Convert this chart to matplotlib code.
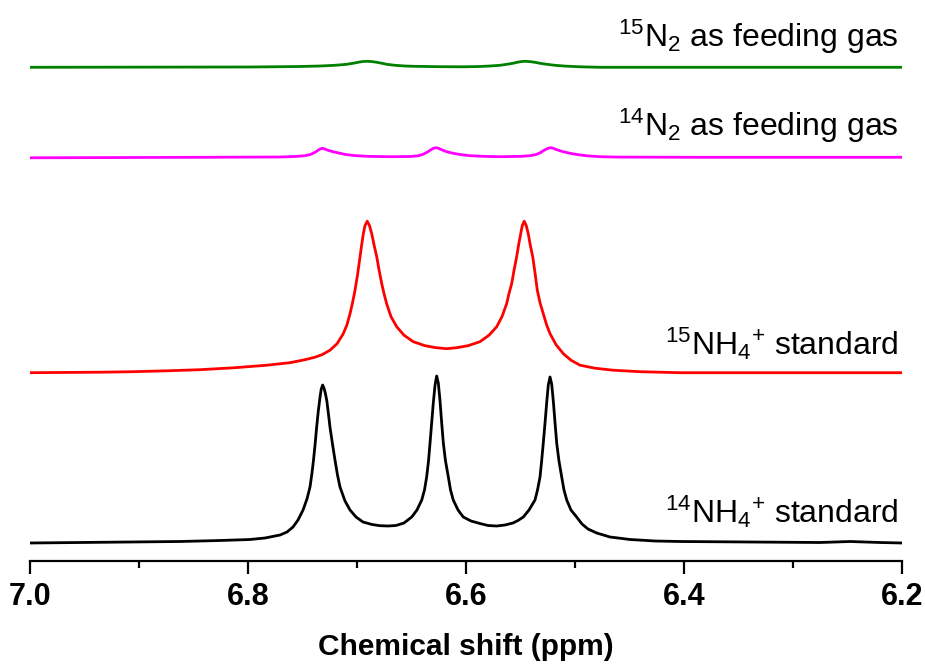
import matplotlib
matplotlib.use('Agg')
import matplotlib.pyplot as plt
from matplotlib.ticker import MultipleLocator, FormatStrFormatter

plt.rcParams['font.family'] = ['Liberation Sans', 'DejaVu Sans']
plt.rcParams['mathtext.fontset'] = 'custom'
plt.rcParams['mathtext.rm'] = 'Liberation Sans'
plt.rcParams['mathtext.it'] = 'Liberation Sans:italic'
plt.rcParams['mathtext.bf'] = 'Liberation Sans:bold'

##### spectra (ppm, intensity above own baseline, a.u.) #####
# 14NH4+ standard (black)
ppm_14nh4 = [7.0000, 6.9541, 6.9083, 6.8624, 6.8257, 6.7982, 6.7844, 6.7798, 6.7706, 6.7642,
             6.7587, 6.7541, 6.7495, 6.7459, 6.7431, 6.7413, 6.7399, 6.7385, 6.7370, 6.7355,
             6.7339, 6.7328, 6.7315, 6.7303, 6.7291, 6.7278, 6.7263, 6.7248, 6.7225, 6.7202,
             6.7179, 6.7156, 6.7110, 6.7064, 6.7009, 6.6945, 6.6862, 6.6789, 6.6716, 6.6642,
             6.6569, 6.6498, 6.6450, 6.6406, 6.6381, 6.6361, 6.6344, 6.6330, 6.6315, 6.6300,
             6.6284, 6.6269, 6.6254, 6.6239, 6.6223, 6.6208, 6.6188, 6.6162, 6.6142, 6.6117,
             6.6073, 6.6025, 6.5954, 6.5872, 6.5798, 6.5718, 6.5642, 6.5569, 6.5523, 6.5474,
             6.5422, 6.5367, 6.5344, 6.5321, 6.5306, 6.5291, 6.5275, 6.5260, 6.5245, 6.5229,
             6.5214, 6.5199, 6.5183, 6.5168, 6.5147, 6.5122, 6.5101, 6.5076, 6.5037, 6.4985,
             6.4936, 6.4881, 6.4801, 6.4679, 6.4495, 6.4266, 6.4037, 6.3394, 6.2752, 6.2477,
             6.2202, 6.2000]
int_14nh4 = [0, 0.5, 1, 1.5, 2.5, 3.5, 5, 6, 8, 11,
             16, 23, 33, 44, 56, 70, 83, 98, 116, 132,
             146, 154, 158, 155, 150, 143, 130, 116, 99, 83,
             68, 56, 42, 33, 26, 21, 18.5, 17.3, 17, 17.5,
             20, 26, 33, 43, 53, 66, 82, 100, 120, 140,
             158, 167, 160, 143, 120, 100, 82, 66, 53, 43,
             33, 26, 22, 19.5, 17.5, 17, 18, 20, 22.5, 26,
             33, 43, 53, 66, 82, 100, 120, 140, 158, 166,
             159, 142, 120, 100, 82, 66, 53, 43, 33, 26,
             19, 14, 10, 6, 3.5, 2, 1.5, 1, 0.5, 1.5,
             0.5, 0]

# 15NH4+ standard (red)
ppm_15nh4 = [7.0000, 6.9358, 6.9055, 6.8716, 6.8440, 6.8119, 6.7826, 6.7615, 6.7477, 6.7385,
             6.7321, 6.7248, 6.7183, 6.7126, 6.7092, 6.7064, 6.7041, 6.7018, 6.6995, 6.6972,
             6.6957, 6.6942, 6.6927, 6.6906, 6.6885, 6.6865, 6.6844, 6.6819, 6.6798, 6.6773,
             6.6752, 6.6728, 6.6688, 6.6636, 6.6569, 6.6484, 6.6376, 6.6275, 6.6177, 6.6083,
             6.5982, 6.5872, 6.5789, 6.5718, 6.5670, 6.5627, 6.5606, 6.5581, 6.5560, 6.5535,
             6.5517, 6.5498, 6.5484, 6.5466, 6.5447, 6.5429, 6.5411, 6.5388, 6.5367, 6.5346,
             6.5321, 6.5291, 6.5261, 6.5229, 6.5174, 6.5107, 6.5037, 6.4954, 6.4817, 6.4651,
             6.4404, 6.4037, 6.2000]
int_15nh4 = [0, 0.5, 1, 2, 3, 5, 7.5, 10, 13, 15.5,
             18, 22.5, 29, 39, 48, 59, 70, 82.5, 98, 116,
             128, 139, 147, 151.5, 147, 139, 128, 116, 103, 89,
             79, 69, 56, 46, 37.5, 31, 27, 25, 24, 25,
             27, 31, 37.5, 46, 56, 69, 79, 89, 102, 116,
             128, 139, 147, 151.5, 147, 139, 128, 116, 100, 82.5,
             70, 59, 48, 39, 28, 19, 12.5, 7.5, 4.5, 2.5,
             1, 0, 0]

# 14N2 as feeding gas (magenta)
ppm_14n2 = [7.0000, 6.8440, 6.7706, 6.7569, 6.7477, 6.7422, 6.7385, 6.7358, 6.7335, 6.7315,
            6.7294, 6.7266, 6.7220, 6.7156, 6.7092, 6.7009, 6.6881, 6.6697, 6.6514, 6.6440,
            6.6394, 6.6358, 6.6330, 6.6303, 6.6275, 6.6252, 6.6229, 6.6177, 6.6119, 6.6055,
            6.5963, 6.5826, 6.5688, 6.5505, 6.5413, 6.5349, 6.5312, 6.5284, 6.5252, 6.5223,
            6.5197, 6.5174, 6.5110, 6.5046, 6.4982, 6.4890, 6.4771, 6.4587, 6.3853, 6.2000]
int_14n2 = [-0.5, 0, 0.3, 0.8, 1.6, 3, 5, 7, 8.5, 9,
            8.2, 7, 5.6, 4, 2.6, 1.6, 0.9, 0.6, 0.8, 1.5,
            3, 5, 7, 8.8, 9.6, 9, 7.8, 5.6, 4, 2.8,
            1.6, 0.9, 0.6, 0.9, 1.6, 3, 5, 7, 8.8, 9.6,
            9, 7.8, 5.6, 4, 2.8, 1.5, 0.6, 0.2, 0, 0]

# 15N2 as feeding gas (green)
ppm_15n2 = [7.0000, 6.7982, 6.7523, 6.7339, 6.7202, 6.7094, 6.7037, 6.6991, 6.6954, 6.6906,
            6.6862, 6.6817, 6.6771, 6.6728, 6.6651, 6.6560, 6.6484, 6.6239, 6.6025, 6.5872,
            6.5780, 6.5688, 6.5624, 6.5569, 6.5532, 6.5495, 6.5459, 6.5413, 6.5367, 6.5321,
            6.5260, 6.5183, 6.5092, 6.4954, 6.4771, 6.2000]
int_15n2 = [0, 0.3, 0.8, 1.3, 2, 3, 4, 5, 5.7, 6,
            5.7, 5, 4, 3, 2, 1.3, 1, 0.6, 0.5, 0.8,
            1.3, 2, 3, 4, 5, 5.7, 6, 5.7, 5, 4,
            3, 2, 1.2, 0.5, 0, 0]

labels = [r'$^{14}$NH$_4$$^{+}$ standard',
          r'$^{15}$NH$_4$$^{+}$ standard',
          r'$^{14}$N$_2$ as feeding gas',
          r'$^{15}$N$_2$ as feeding gas']
colors = ['black', '#ff0000', '#ff00ff', '#008000']

# vertical stacking of the traces
offsets = [18, 188.3, 403.7, 493.7]
label_y = [38.3, 206, 425, 514.3]

fig = plt.figure(figsize=(9.25, 6.66), dpi=100)
ax = fig.add_axes([30 / 925, 105 / 666, 872 / 925, 551 / 666])

traces = [(ppm_14nh4, int_14nh4), (ppm_15nh4, int_15nh4),
          (ppm_14n2, int_14n2), (ppm_15n2, int_15n2)]
for (x, y), off, col, lab, ly in zip(traces, offsets, colors, labels, label_y):
    ax.plot(x, [v + off for v in y], color=col, lw=2.0, solid_joinstyle='round')
    ax.text(6.2035, ly, lab, ha='right', va='baseline', fontsize=23, color='black')

ax.set_xlim(7.0, 6.2)
ax.set_ylim(0, 551)

## only the bottom axis is drawn
for s in ['left', 'top', 'right']:
    ax.spines[s].set_visible(False)
ax.spines['bottom'].set_linewidth(1.6)
ax.set_yticks([])
ax.xaxis.set_major_locator(MultipleLocator(0.2))
ax.xaxis.set_minor_locator(MultipleLocator(0.1))
ax.xaxis.set_major_formatter(FormatStrFormatter('%.1f'))
ax.tick_params(axis='x', which='major', direction='out', length=9.4, width=1.6,
               pad=6, labelsize=22)
ax.tick_params(axis='x', which='minor', direction='out', length=5, width=1.6)
for t in ax.get_xticklabels():
    t.set_fontweight('bold')
ax.set_xlabel('Chemical shift (ppm)', fontsize=21.5, fontweight='bold', labelpad=15)

fig.savefig('out.png', dpi=100)
